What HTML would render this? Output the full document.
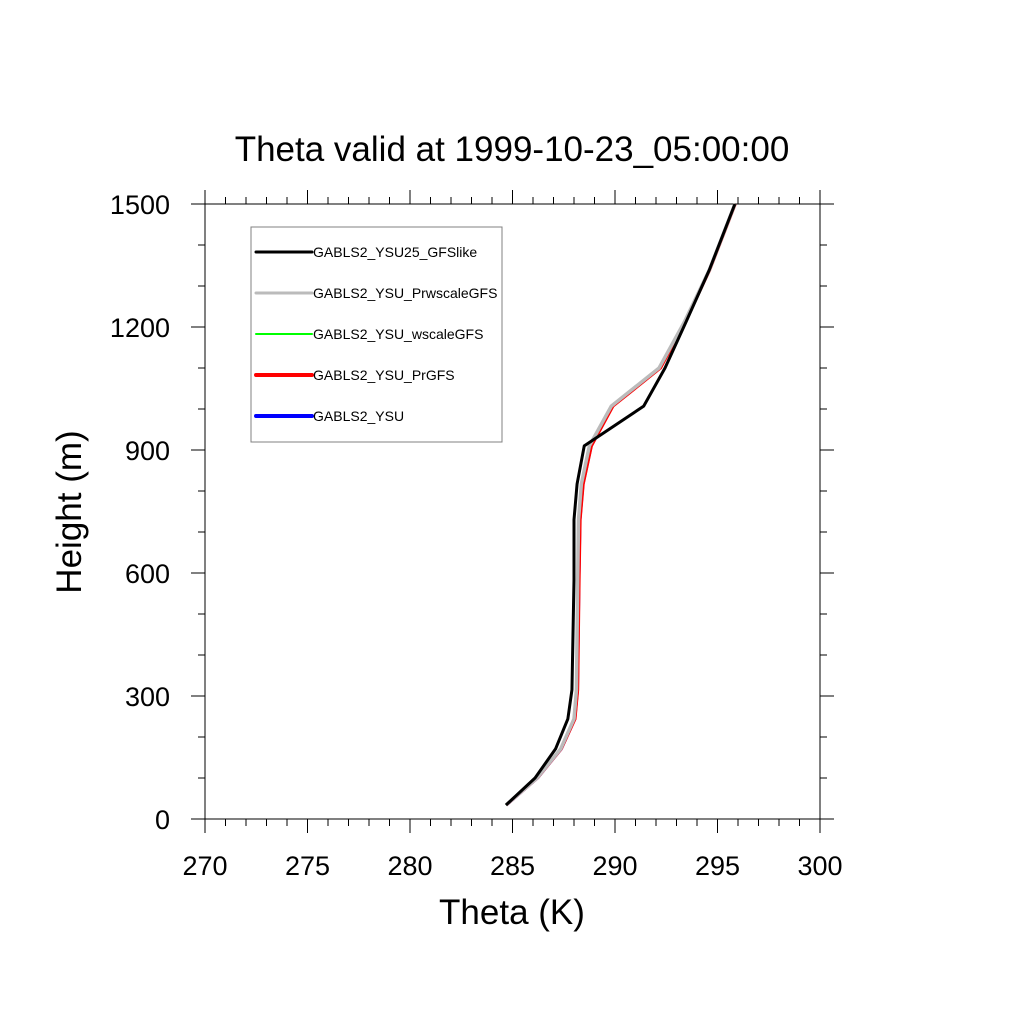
<!DOCTYPE html>
<html><head><meta charset="utf-8"><style>
body{margin:0;background:#fff}
svg text{font-family:"Liberation Sans",sans-serif}
</style></head><body>
<svg id="c" width="1024" height="1024">
<text x="512" y="161" font-size="35" text-anchor="middle">Theta valid at 1999-10-23_05:00:00</text>
<text x="512" y="924" font-size="35" text-anchor="middle">Theta (K)</text>
<text transform="translate(81,512) rotate(-90)" font-size="35" text-anchor="middle">Height (m)</text>
<g id="axes"></g>
<g id="series"></g>
<g>
<rect x="251" y="227" width="251" height="215" fill="#fff" stroke="#808080" stroke-width="1"/>
<g id="legend"></g>
</g>
</svg>
<script>
const xTicks=[270,275,280,285,290,295,300];
const yTicks=[0,300,600,900,1200,1500];
const names=["GABLS2_YSU25_GFSlike","GABLS2_YSU_PrwscaleGFS","GABLS2_YSU_wscaleGFS","GABLS2_YSU_PrGFS","GABLS2_YSU"];
const heights=[34,100,171,244,315,583,730,817,910,1007,1100,1212,1339,1500];
const thetaGFSlike=[284.68,286.1,287.1,287.7,287.9,288.0,288.0,288.15,288.5,291.4,292.44,293.46,294.6,295.85];
const thetaPrwscale=[284.68,286.2,287.35,288.0,288.12,288.18,288.22,288.36,288.75,289.82,292.15,293.38,294.6,295.85];
const thetaWscale=[284.68,286.2,287.35,288.0,288.13,288.2,288.24,288.38,288.78,289.85,292.18,293.4,294.6,295.85];
const thetaPrGFS=[284.7,286.22,287.38,288.05,288.18,288.25,288.3,288.45,288.85,289.9,292.22,293.42,294.62,295.87];
const thetaYSU=[284.7,286.22,287.38,288.04,288.17,288.24,288.29,288.44,288.84,289.88,292.2,293.4,294.6,295.85];
const X=v=>205+(v-270)*20.5, Y=v=>819-v*0.41;
const NS="http://www.w3.org/2000/svg";
function mk(t,a,p){const e=document.createElementNS(NS,t);for(const k in a)e.setAttribute(k,a[k]);p.appendChild(e);return e;}
const ax=document.getElementById('axes');
const fr=mk('rect',{x:205,y:204,width:615,height:615,fill:'none',stroke:'#000','stroke-width':1},ax);


for(let v=270;v<=300;v++){const maj=v%5==0;const L=maj?14:7;
 mk('line',{x1:X(v),x2:X(v),y1:819,y2:819+L,stroke:'#000'},ax);
 mk('line',{x1:X(v),x2:X(v),y1:204,y2:204-L,stroke:'#000'},ax);}
for(let v=0;v<=1500;v+=100){const maj=v%300==0;const L=maj?14:7;
 mk('line',{x1:205,x2:205-L,y1:Y(v),y2:Y(v),stroke:'#000'},ax);
 mk('line',{x1:820,x2:820+L,y1:Y(v),y2:Y(v),stroke:'#000'},ax);}
xTicks.forEach(v=>{const t=mk('text',{x:X(v),y:875,'font-size':27,'text-anchor':'middle'},ax);t.textContent=v;
 
 });
yTicks.forEach(v=>{const t=mk('text',{x:170,y:Y(v)+10,'font-size':27,'text-anchor':'end'},ax);t.textContent=v;
 
 });
const series=[[thetaYSU,'#0000ff',3],[thetaPrGFS,'#ff0000',3],[thetaWscale,'#00ff00',2],[thetaPrwscale,'#bbbbbb',3.5],[thetaGFSlike,'#000000',3]];
const sg=document.getElementById('series');
series.forEach((s,i)=>{const p=mk('polyline',{points:s[0].map((v,j)=>X(v)+','+Y(heights[j])).join(' '),fill:'none',stroke:s[1],'stroke-width':s[2],'stroke-linejoin':'round'},sg);
 
 });
const lc=['#000000','#bbbbbb','#00ff00','#ff0000','#0000ff'],lw=[3,3,2,4,4];
const lg=document.getElementById('legend');
names.forEach((n,i)=>{const y=252+i*41;
 const l=mk('line',{x1:256,x2:312,y1:y,y2:y,stroke:lc[i],'stroke-width':lw[i],'stroke-linecap':'round'},lg);
 
 
 const t=mk('text',{x:313,y:y+5,'font-size':14},lg);t.textContent=n;
 
 });
</script>
</body></html>
